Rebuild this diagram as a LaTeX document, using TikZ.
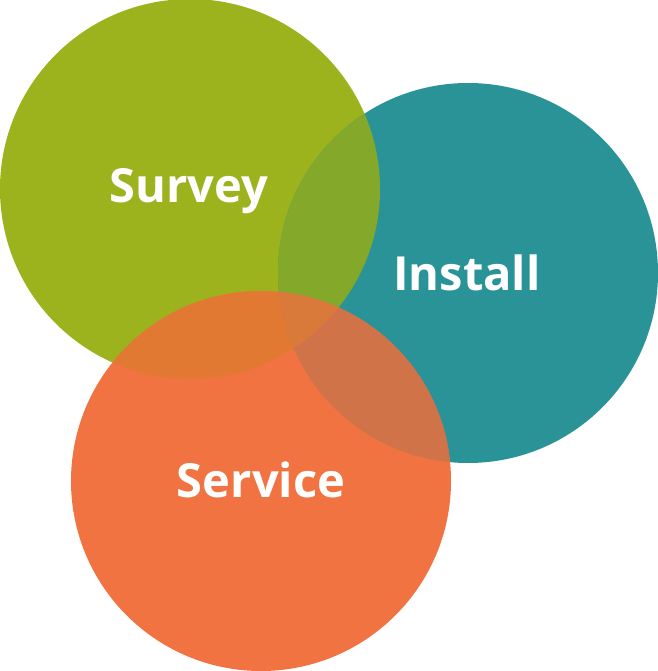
\documentclass[tikz,border=0pt]{standalone}
\usepackage{fontspec}
\setmainfont{Open Sans}
\definecolor{cS}{HTML}{9CB31E}
\definecolor{cI}{HTML}{2A9398}
\definecolor{cV}{HTML}{F17341}
\definecolor{cSI}{HTML}{83A82A}
\definecolor{cSV}{HTML}{E27932}
\definecolor{cIV}{HTML}{D17349}
\definecolor{cSIV}{HTML}{DA7A3A}
\tikzset{lbl/.style={text=white, font=\fontsize{47bp}{56bp}\selectfont\bfseries, anchor=base, inner sep=0pt}}
\begin{document}
\begin{tikzpicture}[x=1bp,y=-1bp]
\useasboundingbox (0,0) rectangle (658,671);
\def\pS{(190,189) circle[radius=190]}
\def\pI{(468,273) circle[radius=190]}
\def\pV{(261,481) circle[radius=190]}
\fill[cS] \pS;
\fill[cI] \pI;
\fill[cV] \pV;
\begin{scope}
\clip \pS; \fill[cSI] \pI;
\end{scope}
\begin{scope}
\clip \pS; \fill[cSV] \pV;
\end{scope}
\begin{scope}
\clip \pI; \fill[cIV] \pV;
\end{scope}
\begin{scope}
\clip \pS; \clip \pI; \fill[cSIV] \pV;
\end{scope}
\node[lbl] (survey) at (189,202) {Survey};
\node[lbl] (install) at (467,290) {Install};
\node[lbl] (service) at (261,497) {Service};
\end{tikzpicture}
\end{document}
